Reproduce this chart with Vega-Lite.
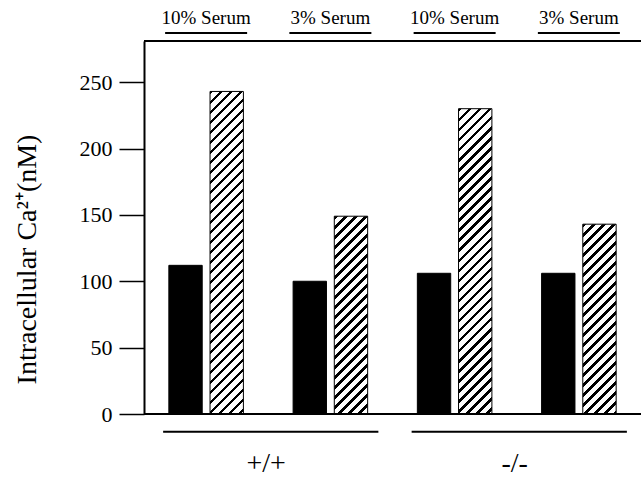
{
 "$schema": "https://vega.github.io/schema/vega-lite/v6.json",
 "width": 497, "height": 373,
 "autosize": {"type": "none"},
 "padding": {"left": 144, "top": 41, "right": 0, "bottom": 65},
 "background": "white",
 "config": {"view": {"stroke": null}, "font": "Liberation Serif"},
 "datasets": {
  "bars": [
   {"genotype": "+/+", "serum": "10% Serum", "cond": "+/+ 10%", "series": "A", "value": 112},
   {"genotype": "+/+", "serum": "10% Serum", "cond": "+/+ 10%", "series": "B", "value": 243},
   {"genotype": "+/+", "serum": "3% Serum", "cond": "+/+ 3%", "series": "A", "value": 100},
   {"genotype": "+/+", "serum": "3% Serum", "cond": "+/+ 3%", "series": "B", "value": 149},
   {"genotype": "-/-", "serum": "10% Serum", "cond": "-/- 10%", "series": "A", "value": 106},
   {"genotype": "-/-", "serum": "10% Serum", "cond": "-/- 10%", "series": "B", "value": 230},
   {"genotype": "-/-", "serum": "3% Serum", "cond": "-/- 3%", "series": "A", "value": 106},
   {"genotype": "-/-", "serum": "3% Serum", "cond": "-/- 3%", "series": "B", "value": 143}
  ],
  "groups": [
   {"genotype": "+/+", "first": "+/+ 10%", "last": "+/+ 3%"},
   {"genotype": "-/-", "first": "-/- 10%", "last": "-/- 3%"}
  ]
 },
 "layer": [
  {
   "data": {"name": "bars"},
   "mark": {"type": "bar", "stroke": "#000", "strokeWidth": 1},
   "encoding": {
    "x": {"field": "cond", "type": "nominal", "scale": {"domain": ["+/+ 10%", "+/+ 3%", "-/- 10%", "-/- 3%"], "paddingInner": 0.4, "paddingOuter": 0.2}, "axis": null},
    "xOffset": {"field": "series", "type": "nominal", "scale": {"paddingInner": 0.19, "paddingOuter": 0}},
    "y": {"field": "value", "type": "quantitative", "scale": {"domain": [0, 281], "nice": false, "zero": true},
     "axis": {"title": "Intracellular Ca²⁺(nM)", "values": [0, 50, 100, 150, 200, 250], "grid": false,
      "domainColor": "#000", "domainWidth": 2, "tickColor": "#000", "tickWidth": 1.5, "tickSize": 25,
      "labelFontSize": 22, "labelColor": "#000", "labelPadding": 7, "labelFont": "Liberation Serif",
      "titleFont": "Liberation Serif", "titleFontSize": 28, "titleFontWeight": "normal", "titleColor": "#000",
      "titleX": -117, "titleY": 218, "titleAngle": 270, "titleAlign": "center", "titleBaseline": "middle"}},
    "fill": {
     "condition": [
      {"test": "datum.series === 'A'", "value": "#000"},
      {"test": "datum.cond === '+/+ 10%'", "value": {"gradient": "linear", "x1": 0, "y1": 0, "x2": 0.15862, "y2": 1.5337, "stops": [{"offset":0,"color":"#000"},{"offset":0.007,"color":"#000"},{"offset":0.007,"color":"#fff"},{"offset":0.02,"color":"#fff"},{"offset":0.02,"color":"#000"},{"offset":0.027,"color":"#000"},{"offset":0.027,"color":"#fff"},{"offset":0.04,"color":"#fff"},{"offset":0.04,"color":"#000"},{"offset":0.047,"color":"#000"},{"offset":0.047,"color":"#fff"},{"offset":0.06,"color":"#fff"},{"offset":0.06,"color":"#000"},{"offset":0.067,"color":"#000"},{"offset":0.067,"color":"#fff"},{"offset":0.08,"color":"#fff"},{"offset":0.08,"color":"#000"},{"offset":0.087,"color":"#000"},{"offset":0.087,"color":"#fff"},{"offset":0.1,"color":"#fff"},{"offset":0.1,"color":"#000"},{"offset":0.107,"color":"#000"},{"offset":0.107,"color":"#fff"},{"offset":0.12,"color":"#fff"},{"offset":0.12,"color":"#000"},{"offset":0.127,"color":"#000"},{"offset":0.127,"color":"#fff"},{"offset":0.14,"color":"#fff"},{"offset":0.14,"color":"#000"},{"offset":0.147,"color":"#000"},{"offset":0.147,"color":"#fff"},{"offset":0.16,"color":"#fff"},{"offset":0.16,"color":"#000"},{"offset":0.167,"color":"#000"},{"offset":0.167,"color":"#fff"},{"offset":0.18,"color":"#fff"},{"offset":0.18,"color":"#000"},{"offset":0.187,"color":"#000"},{"offset":0.187,"color":"#fff"},{"offset":0.2,"color":"#fff"},{"offset":0.2,"color":"#000"},{"offset":0.207,"color":"#000"},{"offset":0.207,"color":"#fff"},{"offset":0.22,"color":"#fff"},{"offset":0.22,"color":"#000"},{"offset":0.227,"color":"#000"},{"offset":0.227,"color":"#fff"},{"offset":0.24,"color":"#fff"},{"offset":0.24,"color":"#000"},{"offset":0.247,"color":"#000"},{"offset":0.247,"color":"#fff"},{"offset":0.26,"color":"#fff"},{"offset":0.26,"color":"#000"},{"offset":0.267,"color":"#000"},{"offset":0.267,"color":"#fff"},{"offset":0.28,"color":"#fff"},{"offset":0.28,"color":"#000"},{"offset":0.287,"color":"#000"},{"offset":0.287,"color":"#fff"},{"offset":0.3,"color":"#fff"},{"offset":0.3,"color":"#000"},{"offset":0.307,"color":"#000"},{"offset":0.307,"color":"#fff"},{"offset":0.32,"color":"#fff"},{"offset":0.32,"color":"#000"},{"offset":0.327,"color":"#000"},{"offset":0.327,"color":"#fff"},{"offset":0.34,"color":"#fff"},{"offset":0.34,"color":"#000"},{"offset":0.347,"color":"#000"},{"offset":0.347,"color":"#fff"},{"offset":0.36,"color":"#fff"},{"offset":0.36,"color":"#000"},{"offset":0.367,"color":"#000"},{"offset":0.367,"color":"#fff"},{"offset":0.38,"color":"#fff"},{"offset":0.38,"color":"#000"},{"offset":0.387,"color":"#000"},{"offset":0.387,"color":"#fff"},{"offset":0.4,"color":"#fff"},{"offset":0.4,"color":"#000"},{"offset":0.407,"color":"#000"},{"offset":0.407,"color":"#fff"},{"offset":0.42,"color":"#fff"},{"offset":0.42,"color":"#000"},{"offset":0.427,"color":"#000"},{"offset":0.427,"color":"#fff"},{"offset":0.44,"color":"#fff"},{"offset":0.44,"color":"#000"},{"offset":0.447,"color":"#000"},{"offset":0.447,"color":"#fff"},{"offset":0.46,"color":"#fff"},{"offset":0.46,"color":"#000"},{"offset":0.467,"color":"#000"},{"offset":0.467,"color":"#fff"},{"offset":0.48,"color":"#fff"},{"offset":0.48,"color":"#000"},{"offset":0.487,"color":"#000"},{"offset":0.487,"color":"#fff"},{"offset":0.5,"color":"#fff"},{"offset":0.5,"color":"#000"},{"offset":0.507,"color":"#000"},{"offset":0.507,"color":"#fff"},{"offset":0.52,"color":"#fff"},{"offset":0.52,"color":"#000"},{"offset":0.527,"color":"#000"},{"offset":0.527,"color":"#fff"},{"offset":0.54,"color":"#fff"},{"offset":0.54,"color":"#000"},{"offset":0.547,"color":"#000"},{"offset":0.547,"color":"#fff"},{"offset":0.56,"color":"#fff"},{"offset":0.56,"color":"#000"},{"offset":0.567,"color":"#000"},{"offset":0.567,"color":"#fff"},{"offset":0.58,"color":"#fff"},{"offset":0.58,"color":"#000"},{"offset":0.587,"color":"#000"},{"offset":0.587,"color":"#fff"},{"offset":0.6,"color":"#fff"},{"offset":0.6,"color":"#000"},{"offset":0.607,"color":"#000"},{"offset":0.607,"color":"#fff"},{"offset":0.62,"color":"#fff"},{"offset":0.62,"color":"#000"},{"offset":0.627,"color":"#000"},{"offset":0.627,"color":"#fff"},{"offset":0.64,"color":"#fff"},{"offset":0.64,"color":"#000"},{"offset":0.647,"color":"#000"},{"offset":0.647,"color":"#fff"},{"offset":0.66,"color":"#fff"},{"offset":0.66,"color":"#000"},{"offset":0.667,"color":"#000"},{"offset":0.667,"color":"#fff"},{"offset":0.68,"color":"#fff"},{"offset":0.68,"color":"#000"},{"offset":0.687,"color":"#000"},{"offset":0.687,"color":"#fff"},{"offset":0.7,"color":"#fff"},{"offset":0.7,"color":"#000"},{"offset":0.707,"color":"#000"},{"offset":0.707,"color":"#fff"}]}},
      {"test": "datum.cond === '+/+ 3%'", "value": {"gradient": "linear", "x1": 0, "y1": 0, "x2": 0.41463, "y2": 2.4582, "stops": [{"offset":0,"color":"#000"},{"offset":0.007,"color":"#000"},{"offset":0.007,"color":"#fff"},{"offset":0.02,"color":"#fff"},{"offset":0.02,"color":"#000"},{"offset":0.027,"color":"#000"},{"offset":0.027,"color":"#fff"},{"offset":0.04,"color":"#fff"},{"offset":0.04,"color":"#000"},{"offset":0.047,"color":"#000"},{"offset":0.047,"color":"#fff"},{"offset":0.06,"color":"#fff"},{"offset":0.06,"color":"#000"},{"offset":0.067,"color":"#000"},{"offset":0.067,"color":"#fff"},{"offset":0.08,"color":"#fff"},{"offset":0.08,"color":"#000"},{"offset":0.087,"color":"#000"},{"offset":0.087,"color":"#fff"},{"offset":0.1,"color":"#fff"},{"offset":0.1,"color":"#000"},{"offset":0.107,"color":"#000"},{"offset":0.107,"color":"#fff"},{"offset":0.12,"color":"#fff"},{"offset":0.12,"color":"#000"},{"offset":0.127,"color":"#000"},{"offset":0.127,"color":"#fff"},{"offset":0.14,"color":"#fff"},{"offset":0.14,"color":"#000"},{"offset":0.147,"color":"#000"},{"offset":0.147,"color":"#fff"},{"offset":0.16,"color":"#fff"},{"offset":0.16,"color":"#000"},{"offset":0.167,"color":"#000"},{"offset":0.167,"color":"#fff"},{"offset":0.18,"color":"#fff"},{"offset":0.18,"color":"#000"},{"offset":0.187,"color":"#000"},{"offset":0.187,"color":"#fff"},{"offset":0.2,"color":"#fff"},{"offset":0.2,"color":"#000"},{"offset":0.207,"color":"#000"},{"offset":0.207,"color":"#fff"},{"offset":0.22,"color":"#fff"},{"offset":0.22,"color":"#000"},{"offset":0.227,"color":"#000"},{"offset":0.227,"color":"#fff"},{"offset":0.24,"color":"#fff"},{"offset":0.24,"color":"#000"},{"offset":0.247,"color":"#000"},{"offset":0.247,"color":"#fff"},{"offset":0.26,"color":"#fff"},{"offset":0.26,"color":"#000"},{"offset":0.267,"color":"#000"},{"offset":0.267,"color":"#fff"},{"offset":0.28,"color":"#fff"},{"offset":0.28,"color":"#000"},{"offset":0.287,"color":"#000"},{"offset":0.287,"color":"#fff"},{"offset":0.3,"color":"#fff"},{"offset":0.3,"color":"#000"},{"offset":0.307,"color":"#000"},{"offset":0.307,"color":"#fff"},{"offset":0.32,"color":"#fff"},{"offset":0.32,"color":"#000"},{"offset":0.327,"color":"#000"},{"offset":0.327,"color":"#fff"},{"offset":0.34,"color":"#fff"},{"offset":0.34,"color":"#000"},{"offset":0.347,"color":"#000"},{"offset":0.347,"color":"#fff"},{"offset":0.36,"color":"#fff"},{"offset":0.36,"color":"#000"},{"offset":0.367,"color":"#000"},{"offset":0.367,"color":"#fff"},{"offset":0.38,"color":"#fff"},{"offset":0.38,"color":"#000"},{"offset":0.387,"color":"#000"},{"offset":0.387,"color":"#fff"},{"offset":0.4,"color":"#fff"},{"offset":0.4,"color":"#000"},{"offset":0.407,"color":"#000"},{"offset":0.407,"color":"#fff"},{"offset":0.42,"color":"#fff"},{"offset":0.42,"color":"#000"},{"offset":0.427,"color":"#000"},{"offset":0.427,"color":"#fff"},{"offset":0.44,"color":"#fff"},{"offset":0.44,"color":"#000"},{"offset":0.447,"color":"#000"},{"offset":0.447,"color":"#fff"},{"offset":0.46,"color":"#fff"},{"offset":0.46,"color":"#000"},{"offset":0.467,"color":"#000"},{"offset":0.467,"color":"#fff"}]}},
      {"test": "datum.cond === '-/- 10%'", "value": {"gradient": "linear", "x1": 0, "y1": 0, "x2": 0.17766, "y2": 1.6267, "stops": [{"offset":0,"color":"#000"},{"offset":0.007,"color":"#000"},{"offset":0.007,"color":"#fff"},{"offset":0.02,"color":"#fff"},{"offset":0.02,"color":"#000"},{"offset":0.027,"color":"#000"},{"offset":0.027,"color":"#fff"},{"offset":0.04,"color":"#fff"},{"offset":0.04,"color":"#000"},{"offset":0.047,"color":"#000"},{"offset":0.047,"color":"#fff"},{"offset":0.06,"color":"#fff"},{"offset":0.06,"color":"#000"},{"offset":0.067,"color":"#000"},{"offset":0.067,"color":"#fff"},{"offset":0.08,"color":"#fff"},{"offset":0.08,"color":"#000"},{"offset":0.087,"color":"#000"},{"offset":0.087,"color":"#fff"},{"offset":0.1,"color":"#fff"},{"offset":0.1,"color":"#000"},{"offset":0.107,"color":"#000"},{"offset":0.107,"color":"#fff"},{"offset":0.12,"color":"#fff"},{"offset":0.12,"color":"#000"},{"offset":0.127,"color":"#000"},{"offset":0.127,"color":"#fff"},{"offset":0.14,"color":"#fff"},{"offset":0.14,"color":"#000"},{"offset":0.147,"color":"#000"},{"offset":0.147,"color":"#fff"},{"offset":0.16,"color":"#fff"},{"offset":0.16,"color":"#000"},{"offset":0.167,"color":"#000"},{"offset":0.167,"color":"#fff"},{"offset":0.18,"color":"#fff"},{"offset":0.18,"color":"#000"},{"offset":0.187,"color":"#000"},{"offset":0.187,"color":"#fff"},{"offset":0.2,"color":"#fff"},{"offset":0.2,"color":"#000"},{"offset":0.207,"color":"#000"},{"offset":0.207,"color":"#fff"},{"offset":0.22,"color":"#fff"},{"offset":0.22,"color":"#000"},{"offset":0.227,"color":"#000"},{"offset":0.227,"color":"#fff"},{"offset":0.24,"color":"#fff"},{"offset":0.24,"color":"#000"},{"offset":0.247,"color":"#000"},{"offset":0.247,"color":"#fff"},{"offset":0.26,"color":"#fff"},{"offset":0.26,"color":"#000"},{"offset":0.267,"color":"#000"},{"offset":0.267,"color":"#fff"},{"offset":0.28,"color":"#fff"},{"offset":0.28,"color":"#000"},{"offset":0.287,"color":"#000"},{"offset":0.287,"color":"#fff"},{"offset":0.3,"color":"#fff"},{"offset":0.3,"color":"#000"},{"offset":0.307,"color":"#000"},{"offset":0.307,"color":"#fff"},{"offset":0.32,"color":"#fff"},{"offset":0.32,"color":"#000"},{"offset":0.327,"color":"#000"},{"offset":0.327,"color":"#fff"},{"offset":0.34,"color":"#fff"},{"offset":0.34,"color":"#000"},{"offset":0.347,"color":"#000"},{"offset":0.347,"color":"#fff"},{"offset":0.36,"color":"#fff"},{"offset":0.36,"color":"#000"},{"offset":0.367,"color":"#000"},{"offset":0.367,"color":"#fff"},{"offset":0.38,"color":"#fff"},{"offset":0.38,"color":"#000"},{"offset":0.387,"color":"#000"},{"offset":0.387,"color":"#fff"},{"offset":0.4,"color":"#fff"},{"offset":0.4,"color":"#000"},{"offset":0.407,"color":"#000"},{"offset":0.407,"color":"#fff"},{"offset":0.42,"color":"#fff"},{"offset":0.42,"color":"#000"},{"offset":0.427,"color":"#000"},{"offset":0.427,"color":"#fff"},{"offset":0.44,"color":"#fff"},{"offset":0.44,"color":"#000"},{"offset":0.447,"color":"#000"},{"offset":0.447,"color":"#fff"},{"offset":0.46,"color":"#fff"},{"offset":0.46,"color":"#000"},{"offset":0.467,"color":"#000"},{"offset":0.467,"color":"#fff"},{"offset":0.48,"color":"#fff"},{"offset":0.48,"color":"#000"},{"offset":0.487,"color":"#000"},{"offset":0.487,"color":"#fff"},{"offset":0.5,"color":"#fff"},{"offset":0.5,"color":"#000"},{"offset":0.507,"color":"#000"},{"offset":0.507,"color":"#fff"},{"offset":0.52,"color":"#fff"},{"offset":0.52,"color":"#000"},{"offset":0.527,"color":"#000"},{"offset":0.527,"color":"#fff"},{"offset":0.54,"color":"#fff"},{"offset":0.54,"color":"#000"},{"offset":0.547,"color":"#000"},{"offset":0.547,"color":"#fff"},{"offset":0.56,"color":"#fff"},{"offset":0.56,"color":"#000"},{"offset":0.567,"color":"#000"},{"offset":0.567,"color":"#fff"},{"offset":0.58,"color":"#fff"},{"offset":0.58,"color":"#000"},{"offset":0.587,"color":"#000"},{"offset":0.587,"color":"#fff"},{"offset":0.6,"color":"#fff"},{"offset":0.6,"color":"#000"},{"offset":0.607,"color":"#000"},{"offset":0.607,"color":"#fff"},{"offset":0.62,"color":"#fff"},{"offset":0.62,"color":"#000"},{"offset":0.627,"color":"#000"},{"offset":0.627,"color":"#fff"},{"offset":0.64,"color":"#fff"},{"offset":0.64,"color":"#000"},{"offset":0.647,"color":"#000"},{"offset":0.647,"color":"#fff"},{"offset":0.66,"color":"#fff"},{"offset":0.66,"color":"#000"},{"offset":0.667,"color":"#000"},{"offset":0.667,"color":"#fff"},{"offset":0.68,"color":"#fff"},{"offset":0.68,"color":"#000"},{"offset":0.687,"color":"#000"},{"offset":0.687,"color":"#fff"},{"offset":0.7,"color":"#fff"},{"offset":0.7,"color":"#000"},{"offset":0.707,"color":"#000"},{"offset":0.707,"color":"#fff"}]}},
      {"test": "datum.cond === '-/- 3%'", "value": {"gradient": "linear", "x1": 0, "y1": 0, "x2": 0.44906, "y2": 2.5552, "stops": [{"offset":0,"color":"#000"},{"offset":0.007,"color":"#000"},{"offset":0.007,"color":"#fff"},{"offset":0.02,"color":"#fff"},{"offset":0.02,"color":"#000"},{"offset":0.027,"color":"#000"},{"offset":0.027,"color":"#fff"},{"offset":0.04,"color":"#fff"},{"offset":0.04,"color":"#000"},{"offset":0.047,"color":"#000"},{"offset":0.047,"color":"#fff"},{"offset":0.06,"color":"#fff"},{"offset":0.06,"color":"#000"},{"offset":0.067,"color":"#000"},{"offset":0.067,"color":"#fff"},{"offset":0.08,"color":"#fff"},{"offset":0.08,"color":"#000"},{"offset":0.087,"color":"#000"},{"offset":0.087,"color":"#fff"},{"offset":0.1,"color":"#fff"},{"offset":0.1,"color":"#000"},{"offset":0.107,"color":"#000"},{"offset":0.107,"color":"#fff"},{"offset":0.12,"color":"#fff"},{"offset":0.12,"color":"#000"},{"offset":0.127,"color":"#000"},{"offset":0.127,"color":"#fff"},{"offset":0.14,"color":"#fff"},{"offset":0.14,"color":"#000"},{"offset":0.147,"color":"#000"},{"offset":0.147,"color":"#fff"},{"offset":0.16,"color":"#fff"},{"offset":0.16,"color":"#000"},{"offset":0.167,"color":"#000"},{"offset":0.167,"color":"#fff"},{"offset":0.18,"color":"#fff"},{"offset":0.18,"color":"#000"},{"offset":0.187,"color":"#000"},{"offset":0.187,"color":"#fff"},{"offset":0.2,"color":"#fff"},{"offset":0.2,"color":"#000"},{"offset":0.207,"color":"#000"},{"offset":0.207,"color":"#fff"},{"offset":0.22,"color":"#fff"},{"offset":0.22,"color":"#000"},{"offset":0.227,"color":"#000"},{"offset":0.227,"color":"#fff"},{"offset":0.24,"color":"#fff"},{"offset":0.24,"color":"#000"},{"offset":0.247,"color":"#000"},{"offset":0.247,"color":"#fff"},{"offset":0.26,"color":"#fff"},{"offset":0.26,"color":"#000"},{"offset":0.267,"color":"#000"},{"offset":0.267,"color":"#fff"},{"offset":0.28,"color":"#fff"},{"offset":0.28,"color":"#000"},{"offset":0.287,"color":"#000"},{"offset":0.287,"color":"#fff"},{"offset":0.3,"color":"#fff"},{"offset":0.3,"color":"#000"},{"offset":0.307,"color":"#000"},{"offset":0.307,"color":"#fff"},{"offset":0.32,"color":"#fff"},{"offset":0.32,"color":"#000"},{"offset":0.327,"color":"#000"},{"offset":0.327,"color":"#fff"},{"offset":0.34,"color":"#fff"},{"offset":0.34,"color":"#000"},{"offset":0.347,"color":"#000"},{"offset":0.347,"color":"#fff"},{"offset":0.36,"color":"#fff"},{"offset":0.36,"color":"#000"},{"offset":0.367,"color":"#000"},{"offset":0.367,"color":"#fff"},{"offset":0.38,"color":"#fff"},{"offset":0.38,"color":"#000"},{"offset":0.387,"color":"#000"},{"offset":0.387,"color":"#fff"},{"offset":0.4,"color":"#fff"},{"offset":0.4,"color":"#000"},{"offset":0.407,"color":"#000"},{"offset":0.407,"color":"#fff"},{"offset":0.42,"color":"#fff"},{"offset":0.42,"color":"#000"},{"offset":0.427,"color":"#000"},{"offset":0.427,"color":"#fff"},{"offset":0.44,"color":"#fff"},{"offset":0.44,"color":"#000"},{"offset":0.447,"color":"#000"},{"offset":0.447,"color":"#fff"}]}}
     ],
     "value": "#fff"
    }
   }
  },
  {
   "data": {"name": "bars"},
   "transform": [{"filter": "datum.series === 'A'"}],
   "mark": {"type": "text", "fontSize": 19, "baseline": "middle", "align": "center", "fill": "#000", "font": "Times New Roman, Liberation Serif, serif"},
   "encoding": {
    "x": {"field": "cond", "type": "nominal", "axis": null},
    "y": {"datum": 298.3},
    "text": {"field": "serum"}
   }
  },
  {
   "data": {"name": "bars"},
   "transform": [{"filter": "datum.series === 'A'"}],
   "mark": {"type": "rule", "xOffset": -41, "x2Offset": 41, "strokeWidth": 2, "color": "#000"},
   "encoding": {
    "x": {"field": "cond", "type": "nominal", "axis": null},
    "x2": {"field": "cond"},
    "y": {"datum": 287.0}
   }
  },
  {
   "data": {"name": "groups"},
   "mark": {"type": "rule", "xOffset": -43, "x2Offset": 48, "strokeWidth": 2, "color": "#000"},
   "encoding": {
    "x": {"field": "first", "type": "nominal", "axis": null},
    "x2": {"field": "last"},
    "y": {"datum": -13.3}
   }
  },
  {
   "data": {"name": "groups"},
   "mark": {"type": "text", "dx": 60, "fontSize": 28, "baseline": "middle", "align": "center", "fill": "#000", "font": "Times New Roman, Liberation Serif, serif"},
   "encoding": {
    "x": {"field": "first", "type": "nominal", "axis": null},
    "y": {"datum": -37.8},
    "text": {"field": "genotype"}
   }
  },
  {
   "data": {"values": [{}]},
   "mark": {"type": "rule", "strokeWidth": 2, "color": "#000"},
   "encoding": {"y": {"datum": 0}}
  },
  {
   "data": {"values": [{}]},
   "mark": {"type": "rule", "strokeWidth": 2, "color": "#000"},
   "encoding": {"y": {"datum": 281}}
  }
 ]
}
